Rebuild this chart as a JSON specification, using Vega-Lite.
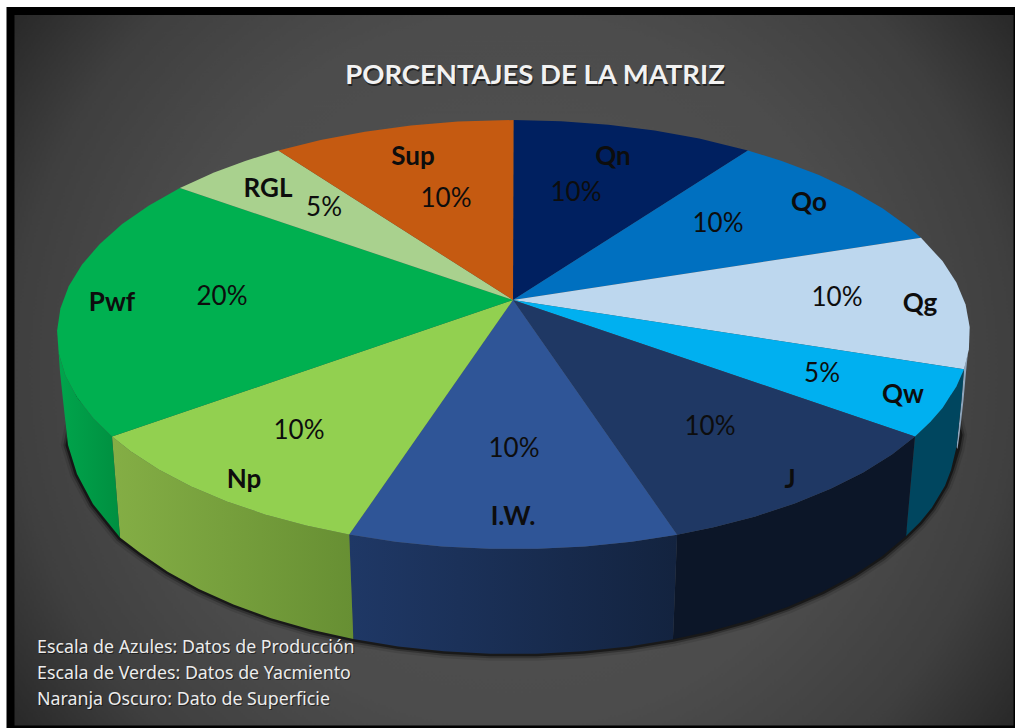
{
"$schema":"https://vega.github.io/schema/vega-lite/v6.json",
"width":1016,"height":728,"padding":0,"autosize":{"type":"fit","contains":"padding"},
"background":"white",
"view":{"stroke":null},
"datasets":{
"top":[
{"slice":"Qn","i":0,"x":513,"y":300},{"slice":"Qn","i":1,"x":513.5,"y":120},{"slice":"Qn","i":2,"x":561.2,"y":121.2},{"slice":"Qn","i":3,"x":608.4,"y":124.7},{"slice":"Qn","i":4,"x":654.6,"y":130.5},{"slice":"Qn","i":5,"x":699.2,"y":138.6},{"slice":"Qn","i":6,"x":747.9,"y":150.4},
{"slice":"Qo","i":0,"x":513,"y":300},{"slice":"Qo","i":1,"x":747.9,"y":150.4},{"slice":"Qo","i":2,"x":781.8,"y":161},{"slice":"Qo","i":3,"x":819,"y":175.1},{"slice":"Qo","i":4,"x":852.7,"y":191},{"slice":"Qo","i":5,"x":882.8,"y":208.4},{"slice":"Qo","i":6,"x":908.8,"y":227.3},{"slice":"Qo","i":7,"x":921,"y":237.8},
{"slice":"Qg","i":0,"x":513,"y":300},{"slice":"Qg","i":1,"x":921,"y":237.8},{"slice":"Qg","i":2,"x":942.5,"y":261.1},{"slice":"Qg","i":3,"x":956.4,"y":282.6},{"slice":"Qg","i":4,"x":965.6,"y":304.6},{"slice":"Qg","i":5,"x":969.7,"y":327},{"slice":"Qg","i":6,"x":968.9,"y":349.5},{"slice":"Qg","i":7,"x":964,"y":369.2},
{"slice":"Qw","i":0,"x":513,"y":300},{"slice":"Qw","i":1,"x":964,"y":369.2},{"slice":"Qw","i":2,"x":956.4,"y":386.4},{"slice":"Qw","i":3,"x":942.5,"y":407.9},{"slice":"Qw","i":4,"x":930.5,"y":421.7},{"slice":"Qw","i":5,"x":915,"y":436.5},
{"slice":"J","i":0,"x":513,"y":300},{"slice":"J","i":1,"x":915,"y":436.5},{"slice":"J","i":2,"x":892,"y":454.5},{"slice":"J","i":3,"x":863.2,"y":472.4},{"slice":"J","i":4,"x":830.6,"y":488.8},{"slice":"J","i":5,"x":794.6,"y":503.5},{"slice":"J","i":6,"x":755.4,"y":516.4},{"slice":"J","i":7,"x":713.6,"y":527.3},{"slice":"J","i":8,"x":677.1,"y":534.8},
{"slice":"I.W.","i":0,"x":513,"y":300},{"slice":"I.W.","i":1,"x":677.1,"y":534.8},{"slice":"I.W.","i":2,"x":631.6,"y":541.7},{"slice":"I.W.","i":3,"x":584.9,"y":546.4},{"slice":"I.W.","i":4,"x":537.4,"y":548.7},{"slice":"I.W.","i":5,"x":489.6,"y":548.7},{"slice":"I.W.","i":6,"x":442.1,"y":546.4},{"slice":"I.W.","i":7,"x":395.4,"y":541.7},{"slice":"I.W.","i":8,"x":349.2,"y":534.6},
{"slice":"Np","i":0,"x":513,"y":300},{"slice":"Np","i":1,"x":349.2,"y":534.6},{"slice":"Np","i":2,"x":306.2,"y":525.6},{"slice":"Np","i":3,"x":264.9,"y":514.4},{"slice":"Np","i":4,"x":226.2,"y":501.2},{"slice":"Np","i":5,"x":190.7,"y":486.2},{"slice":"Np","i":6,"x":158.7,"y":469.5},{"slice":"Np","i":7,"x":130.6,"y":451.3},{"slice":"Np","i":8,"x":112,"y":436.5},
{"slice":"Pwf","i":0,"x":513,"y":300},{"slice":"Pwf","i":1,"x":112,"y":436.5},{"slice":"Pwf","i":2,"x":93.3,"y":418.3},{"slice":"Pwf","i":3,"x":77,"y":397.2},{"slice":"Pwf","i":4,"x":65.4,"y":375.4},{"slice":"Pwf","i":5,"x":58.7,"y":353.2},{"slice":"Pwf","i":6,"x":57.1,"y":330.7},{"slice":"Pwf","i":7,"x":60.4,"y":308.4},{"slice":"Pwf","i":8,"x":68.7,"y":286.2},{"slice":"Pwf","i":9,"x":81.9,"y":264.7},{"slice":"Pwf","i":10,"x":99.8,"y":243.9},{"slice":"Pwf","i":11,"x":122.2,"y":224},{"slice":"Pwf","i":12,"x":149,"y":205.4},{"slice":"Pwf","i":13,"x":179.9,"y":188.1},
{"slice":"RGL","i":0,"x":513,"y":300},{"slice":"RGL","i":1,"x":179.9,"y":188.1},{"slice":"RGL","i":2,"x":214,"y":172.6},{"slice":"RGL","i":3,"x":245.2,"y":161},{"slice":"RGL","i":4,"x":278.4,"y":150.6},
{"slice":"Sup","i":0,"x":513,"y":300},{"slice":"Sup","i":1,"x":278.4,"y":150.6},{"slice":"Sup","i":2,"x":320.6,"y":140.1},{"slice":"Sup","i":3,"x":364.9,"y":131.7},{"slice":"Sup","i":4,"x":410.8,"y":125.5},{"slice":"Sup","i":5,"x":457.9,"y":121.6},{"slice":"Sup","i":6,"x":513.5,"y":120}
],
"side":[
{"slice":"Qg","i":0,"x":964,"y":369.2},{"slice":"Qg","i":1,"x":968,"y":352},{"slice":"Qg","i":2,"x":966,"y":372},{"slice":"Qg","i":3,"x":963.5,"y":400},{"slice":"Qg","i":4,"x":959.5,"y":435},{"slice":"Qg","i":5,"x":957.5,"y":449},{"slice":"Qg","i":6,"x":956.5,"y":447},{"slice":"Qg","i":7,"x":961.5,"y":400},
{"slice":"Qw","i":0,"x":915,"y":436.5},{"slice":"Qw","i":1,"x":930.5,"y":421.7},{"slice":"Qw","i":2,"x":942.5,"y":407.9},{"slice":"Qw","i":3,"x":956.4,"y":386.4},{"slice":"Qw","i":4,"x":964,"y":369.2},{"slice":"Qw","i":5,"x":961.5,"y":400},{"slice":"Qw","i":6,"x":956.5,"y":447},{"slice":"Qw","i":7,"x":951,"y":470},{"slice":"Qw","i":8,"x":945,"y":485.7},{"slice":"Qw","i":9,"x":931.7,"y":507.9},{"slice":"Qw","i":10,"x":920,"y":522.3},{"slice":"Qw","i":11,"x":906,"y":536},
{"slice":"J","i":0,"x":915,"y":436.5},{"slice":"J","i":1,"x":892,"y":454.5},{"slice":"J","i":2,"x":863.2,"y":472.4},{"slice":"J","i":3,"x":830.6,"y":488.8},{"slice":"J","i":4,"x":794.6,"y":503.5},{"slice":"J","i":5,"x":755.4,"y":516.4},{"slice":"J","i":6,"x":713.6,"y":527.3},{"slice":"J","i":7,"x":677.1,"y":534.8},{"slice":"J","i":8,"x":673,"y":639.3},{"slice":"J","i":9,"x":708.6,"y":631.5},{"slice":"J","i":10,"x":749.3,"y":620.3},{"slice":"J","i":11,"x":787.5,"y":606.9},{"slice":"J","i":12,"x":822.6,"y":591.7},{"slice":"J","i":13,"x":854.4,"y":574.7},{"slice":"J","i":14,"x":882.4,"y":556.1},{"slice":"J","i":15,"x":906,"y":536},
{"slice":"I.W.","i":0,"x":677.1,"y":534.8},{"slice":"I.W.","i":1,"x":631.6,"y":541.7},{"slice":"I.W.","i":2,"x":584.9,"y":546.4},{"slice":"I.W.","i":3,"x":537.4,"y":548.7},{"slice":"I.W.","i":4,"x":489.6,"y":548.7},{"slice":"I.W.","i":5,"x":442.1,"y":546.4},{"slice":"I.W.","i":6,"x":395.4,"y":541.7},{"slice":"I.W.","i":7,"x":349.2,"y":534.6},{"slice":"I.W.","i":8,"x":353.3,"y":639.1},{"slice":"I.W.","i":9,"x":398.3,"y":646.4},{"slice":"I.W.","i":10,"x":443.9,"y":651.3},{"slice":"I.W.","i":11,"x":490.2,"y":653.7},{"slice":"I.W.","i":12,"x":536.8,"y":653.7},{"slice":"I.W.","i":13,"x":583.1,"y":651.3},{"slice":"I.W.","i":14,"x":628.7,"y":646.4},{"slice":"I.W.","i":15,"x":673,"y":639.3},
{"slice":"Np","i":0,"x":349.2,"y":534.6},{"slice":"Np","i":1,"x":306.2,"y":525.6},{"slice":"Np","i":2,"x":264.9,"y":514.4},{"slice":"Np","i":3,"x":226.2,"y":501.2},{"slice":"Np","i":4,"x":190.7,"y":486.2},{"slice":"Np","i":5,"x":158.7,"y":469.5},{"slice":"Np","i":6,"x":130.6,"y":451.3},{"slice":"Np","i":7,"x":112,"y":436.5},{"slice":"Np","i":8,"x":120,"y":537.6},{"slice":"Np","i":9,"x":140.3,"y":552.9},{"slice":"Np","i":10,"x":167.7,"y":571.7},{"slice":"Np","i":11,"x":198.8,"y":589},{"slice":"Np","i":12,"x":233.5,"y":604.5},{"slice":"Np","i":13,"x":271.1,"y":618.2},{"slice":"Np","i":14,"x":311.5,"y":629.8},{"slice":"Np","i":15,"x":353.3,"y":639.1},
{"slice":"Pwf","i":0,"x":112,"y":436.5},{"slice":"Pwf","i":1,"x":93.3,"y":418.3},{"slice":"Pwf","i":2,"x":77,"y":397.2},{"slice":"Pwf","i":3,"x":65.4,"y":375.4},{"slice":"Pwf","i":4,"x":58.7,"y":353.2},{"slice":"Pwf","i":5,"x":60,"y":372},{"slice":"Pwf","i":6,"x":63,"y":400},{"slice":"Pwf","i":7,"x":68,"y":445},{"slice":"Pwf","i":8,"x":77,"y":474},{"slice":"Pwf","i":9,"x":93,"y":504},{"slice":"Pwf","i":10,"x":120,"y":537.6}
],
"outline":[
{"i":2,"x":78,"y":395},{"i":3,"x":68,"y":445},{"i":4,"x":77,"y":474},{"i":5,"x":93,"y":504},{"i":6,"x":120,"y":537.6},{"i":7,"x":140.3,"y":552.9},{"i":8,"x":167.7,"y":571.7},{"i":9,"x":198.8,"y":589},{"i":10,"x":233.5,"y":604.5},{"i":11,"x":271.1,"y":618.2},{"i":12,"x":311.5,"y":629.8},{"i":13,"x":353.3,"y":639.1},{"i":14,"x":398.3,"y":646.4},{"i":15,"x":443.9,"y":651.3},{"i":16,"x":490.2,"y":653.7},{"i":17,"x":536.8,"y":653.7},{"i":18,"x":583.1,"y":651.3},{"i":19,"x":628.7,"y":646.4},{"i":20,"x":673,"y":639.3},{"i":21,"x":708.6,"y":631.5},{"i":22,"x":749.3,"y":620.3},{"i":23,"x":787.5,"y":606.9},{"i":24,"x":822.6,"y":591.7},{"i":25,"x":854.4,"y":574.7},{"i":26,"x":882.4,"y":556.1},{"i":27,"x":906,"y":536},{"i":28,"x":920,"y":522.3},{"i":29,"x":931.7,"y":507.9},{"i":30,"x":945,"y":485.7},{"i":31,"x":951,"y":470},{"i":32,"x":957.5,"y":449},{"i":33,"x":960,"y":435},{"i":34,"x":950,"y":395}
],
"labels":[
{"text":"Sup","x":413,"y":156},{"text":"Qn","x":613,"y":156},{"text":"Qo","x":809,"y":202},{"text":"Qg","x":920,"y":303},{"text":"Qw","x":903,"y":394},{"text":"J","x":790,"y":479},{"text":"I.W.","x":513,"y":516},{"text":"Np","x":244,"y":479},{"text":"Pwf","x":112,"y":302},{"text":"RGL","x":268,"y":188}
],
"pcts":[
{"slice":"Sup","pct":"10%","x":446,"y":198},{"slice":"Qn","pct":"10%","x":576,"y":192},{"slice":"Qo","pct":"10%","x":718,"y":223},{"slice":"Qg","pct":"10%","x":837,"y":297},{"slice":"Qw","pct":"5%","x":822,"y":373},{"slice":"J","pct":"10%","x":710,"y":426},{"slice":"I.W.","pct":"10%","x":514,"y":448},{"slice":"Np","pct":"10%","x":299,"y":430},{"slice":"Pwf","pct":"20%","x":222,"y":296},{"slice":"RGL","pct":"5%","x":324,"y":207}
],
"notes":[
{"text":"Escala de Azules: Datos de Producción","x":37,"y":646},{"text":"Escala de Verdes: Datos de Yacmiento","x":37,"y":672},{"text":"Naranja Oscuro: Dato de Superficie","x":37,"y":698}
],
"heading":[{"text":"PORCENTAJES DE LA MATRIZ","x":535,"y":75}]
},
"layer":[
{"data":{"values":[{}]},"mark":{"type":"rect","fill":"#000000"},
 "encoding":{"x":{"datum":6.5,"type":"quantitative","scale":{"domain":[0,1016],"nice":false,"zero":false},"axis":null},"x2":{"datum":1015},"y":{"datum":7,"type":"quantitative","scale":{"domain":[728,0],"nice":false,"zero":false},"axis":null},"y2":{"datum":728}}},
{"data":{"values":[{}]},"mark":{"type":"rect","fill":{"gradient":"radial","x1":0.5,"y1":0.5,"r1":0,"x2":0.5,"y2":0.5,"r2":0.62,"stops":[{"offset":0,"color":"#525252"},{"offset":0.57,"color":"#4c4c4c"},{"offset":0.81,"color":"#3f3f3f"},{"offset":1,"color":"#272727"}]}},
 "encoding":{"x":{"datum":14.5,"type":"quantitative"},"x2":{"datum":1013.5},"y":{"datum":15,"type":"quantitative"},"y2":{"datum":725.5}}},
{"data":{"name":"outline"},"mark":{"type":"line","stroke":"#000000","strokeWidth":14,"opacity":0.1,"strokeCap":"butt"},
 "encoding":{"x":{"field":"x","type":"quantitative"},"y":{"field":"y","type":"quantitative"},"order":{"field":"i"}}},
{"data":{"name":"outline"},"mark":{"type":"line","stroke":"#000000","strokeWidth":9,"opacity":0.25,"strokeCap":"butt"},
 "encoding":{"x":{"field":"x","type":"quantitative"},"y":{"field":"y","type":"quantitative"},"order":{"field":"i"}}},
{"data":{"name":"outline"},"mark":{"type":"line","stroke":"#000000","strokeWidth":5,"opacity":0.5,"strokeCap":"butt"},
 "encoding":{"x":{"field":"x","type":"quantitative"},"y":{"field":"y","type":"quantitative"},"order":{"field":"i"}}},
{"data":{"name":"side"},"transform":[{"filter":"datum.slice==='Qg'||datum.slice==='Qw'||datum.slice==='J'"}],"mark":{"type":"line","filled":true,"strokeWidth":0},
 "encoding":{"x":{"field":"x","type":"quantitative"},"y":{"field":"y","type":"quantitative"},"order":{"field":"i"},
  "fill":{"field":"slice","type":"nominal","legend":null,"scale":{"domain":["Qg","Qw","J"],"range":["#8fa6bd","#00465f","#0c1628"]}}}},
{"data":{"name":"side"},"transform":[{"filter":"datum.slice==='I.W.'"}],"mark":{"type":"line","filled":true,"strokeWidth":0,"fill":{"gradient":"linear","x1":0,"y1":0,"x2":1,"y2":0,"stops":[{"offset":0,"color":"#1f3866"},{"offset":1,"color":"#13233f"}]}},
 "encoding":{"x":{"field":"x","type":"quantitative"},"y":{"field":"y","type":"quantitative"},"order":{"field":"i"}}},
{"data":{"name":"side"},"transform":[{"filter":"datum.slice==='Np'"}],"mark":{"type":"line","filled":true,"strokeWidth":0,"fill":{"gradient":"linear","x1":0,"y1":0,"x2":1,"y2":0,"stops":[{"offset":0,"color":"#84ae45"},{"offset":1,"color":"#678f33"}]}},
 "encoding":{"x":{"field":"x","type":"quantitative"},"y":{"field":"y","type":"quantitative"},"order":{"field":"i"}}},
{"data":{"name":"side"},"transform":[{"filter":"datum.slice==='Pwf'"}],"mark":{"type":"line","filled":true,"strokeWidth":0,"fill":{"gradient":"linear","x1":0,"y1":0,"x2":1,"y2":0,"stops":[{"offset":0,"color":"#00a54c"},{"offset":1,"color":"#008f40"}]}},
 "encoding":{"x":{"field":"x","type":"quantitative"},"y":{"field":"y","type":"quantitative"},"order":{"field":"i"}}},
{"data":{"name":"top"},"mark":{"type":"line","filled":true,"strokeWidth":0},
 "encoding":{"x":{"field":"x","type":"quantitative"},"y":{"field":"y","type":"quantitative"},"order":{"field":"i"},
  "color":{"field":"slice","type":"nominal","legend":null,"scale":{"domain":["Qn","Qo","Qg","Qw","J","I.W.","Np","Pwf","RGL","Sup"],"range":["#002060","#0070C0","#BDD7EE","#00B0F0","#1F3864","#2F5597","#92D050","#00B050","#A9D18E","#C55A11"]}}}},
{"data":{"name":"labels"},"mark":{"type":"text","font":"Lato","fontSize":26,"fontWeight":"bold","fill":"#0d0d0d","baseline":"middle","align":"center","dy":1},
 "encoding":{"x":{"field":"x","type":"quantitative"},"y":{"field":"y","type":"quantitative"},"text":{"field":"text"}}},
{"data":{"name":"pcts"},"mark":{"type":"text","font":"Lato","fontSize":26,"fill":"#0d0d0d","baseline":"middle","align":"center","dy":1},
 "encoding":{"x":{"field":"x","type":"quantitative"},"y":{"field":"y","type":"quantitative"},"text":{"field":"pct"}}},
{"data":{"name":"notes"},"mark":{"type":"text","font":"Noto Sans","fontSize":17.8,"fill":"#000000","opacity":0.5,"baseline":"middle","align":"left","dx":1,"dy":3},
 "encoding":{"x":{"field":"x","type":"quantitative"},"y":{"field":"y","type":"quantitative"},"text":{"field":"text"}}},
{"data":{"name":"notes"},"mark":{"type":"text","font":"Noto Sans","fontSize":17.8,"fill":"#ececec","baseline":"middle","align":"left","dy":2},
 "encoding":{"x":{"field":"x","type":"quantitative"},"y":{"field":"y","type":"quantitative"},"text":{"field":"text"}}},
{"data":{"name":"heading"},"mark":{"type":"text","font":"Lato","fontSize":27.5,"fontWeight":"bold","fill":"#000000","opacity":0.55,"baseline":"middle","align":"center","dx":1,"dy":3},
 "encoding":{"x":{"field":"x","type":"quantitative"},"y":{"field":"y","type":"quantitative"},"text":{"field":"text"}}},
{"data":{"name":"heading"},"mark":{"type":"text","font":"Lato","fontSize":27.5,"fontWeight":"bold","fill":"#f2f2f2","baseline":"middle","align":"center","dy":1},
 "encoding":{"x":{"field":"x","type":"quantitative"},"y":{"field":"y","type":"quantitative"},"text":{"field":"text"}}}
]
}
